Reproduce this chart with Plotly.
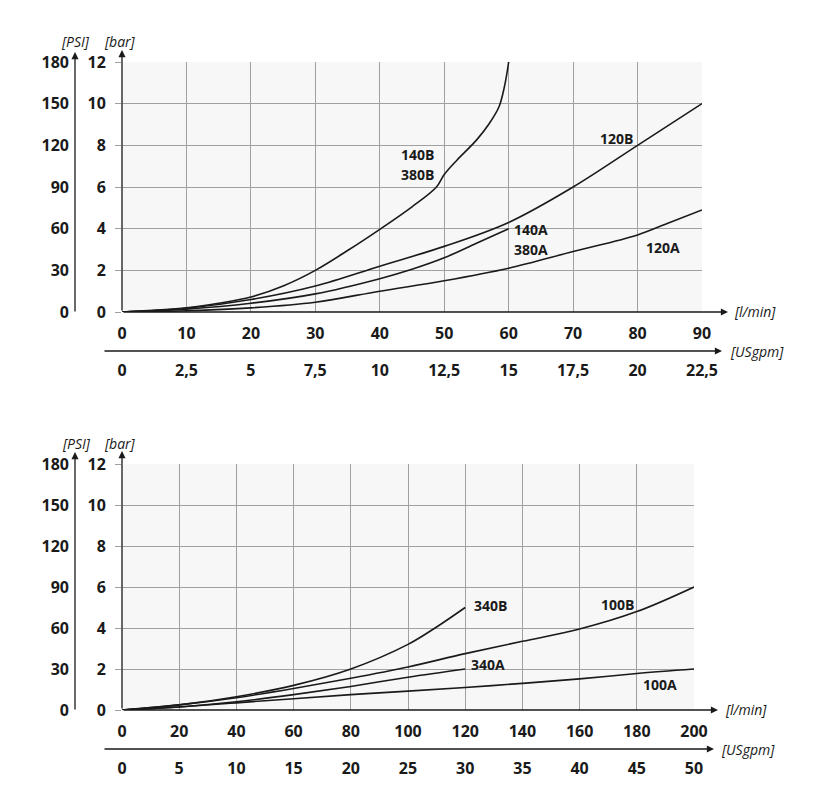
import plotly.graph_objects as go

W, H = 816, 798

# ---------------- data (top chart) ----------------
top_flow_ticks = [0, 10, 20, 30, 40, 50, 60, 70, 80, 90]
top_gpm_ticks = [0, 2.5, 5, 7.5, 10, 12.5, 15, 17.5, 20, 22.5]
top_gpm_labels = ["0", "2,5", "5", "7,5", "10", "12,5", "15", "17,5", "20", "22,5"]
bar_ticks = [0, 2, 4, 6, 8, 10, 12]
psi_ticks = [0, 30, 60, 90, 120, 150, 180]

q_140B = [0, 10, 15, 20, 25, 30, 35, 40, 45, 48.8, 50, 52, 55, 57, 58.5, 59.4, 60]
p_140B = [0, 0.2, 0.42, 0.72, 1.25, 2.0, 2.95, 3.97, 5.05, 6.0, 6.6, 7.3, 8.25, 9.05, 9.85, 10.9, 12.0]

q_120B = [0, 10, 20, 30, 40, 50, 60, 70, 80, 90]
p_120B = [0, 0.18, 0.6, 1.25, 2.2, 3.15, 4.3, 6.0, 8.0, 10.0]

q_140A = [0, 10, 20, 30, 40, 45, 50, 55, 60]
p_140A = [0, 0.14, 0.42, 0.87, 1.6, 2.05, 2.6, 3.3, 4.0]

q_120A = [0, 10, 20, 30, 40, 50, 60, 70, 80, 85, 90]
p_120A = [0, 0.06, 0.2, 0.47, 1.0, 1.5, 2.1, 2.9, 3.7, 4.3, 4.9]

# ---------------- data (bottom chart) ----------------
bot_flow_ticks = [0, 20, 40, 60, 80, 100, 120, 140, 160, 180, 200]
bot_gpm_ticks = [0, 5, 10, 15, 20, 25, 30, 35, 40, 45, 50]

q_340B = [0, 20, 40, 60, 80, 100, 110, 120]
p_340B = [0, 0.25, 0.65, 1.2, 2.0, 3.2, 4.05, 5.0]

q_100B = [0, 20, 40, 60, 80, 100, 120, 140, 160, 180, 200]
p_100B = [0, 0.25, 0.6, 1.05, 1.55, 2.1, 2.75, 3.35, 3.95, 4.8, 6.0]

q_340A = [0, 20, 40, 60, 80, 100, 120]
p_340A = [0, 0.15, 0.4, 0.75, 1.15, 1.6, 2.0]

q_100A = [0, 20, 40, 60, 80, 100, 120, 140, 160, 180, 200]
p_100A = [0, 0.15, 0.35, 0.55, 0.75, 0.92, 1.1, 1.3, 1.52, 1.78, 2.0]

top_labels = [("140B", 45.9, 7.54), ("380B", 45.9, 6.58), ("120B", 76.7, 8.35),
              ("140A", 63.5, 3.94), ("380A", 63.5, 2.98), ("120A", 84.0, 3.12)]
bot_labels = [("340B", 128.7, 5.12), ("100B", 173.4, 5.17),
              ("340A", 128.0, 2.24), ("100A", 188.0, 1.22)]

# ---------------- helpers ----------------
def px(x):
    return x / W

def py(y):
    return 1 - y / H

FONT = "Open Sans"
TICKFONT = dict(family=FONT, size=16, color="#1a1a1a", weight="bold")
GRID = "#a0a0a0"
BG = "#f7f7f7"

fig = go.Figure()

line_style = dict(color="#1a1a1a", width=1.6, shape="spline", smoothing=1.0)
for q, p in [(q_140B, p_140B), (q_120B, p_120B), (q_140A, p_140A), (q_120A, p_120A)]:
    fig.add_trace(go.Scatter(x=q, y=p, mode="lines", line=line_style,
                             xaxis="x", yaxis="y", hoverinfo="skip", showlegend=False))
for q, p in [(q_340B, p_340B), (q_100B, p_100B), (q_340A, p_340A), (q_100A, p_100A)]:
    fig.add_trace(go.Scatter(x=q, y=p, mode="lines", line=line_style,
                             xaxis="x3", yaxis="y3", hoverinfo="skip", showlegend=False))

# invisible traces so that the secondary (unit) axes are drawn
fig.add_trace(go.Scatter(x=[top_gpm_ticks[0], top_gpm_ticks[-1]], y=[psi_ticks[0], psi_ticks[-1]],
                         mode="markers", marker=dict(opacity=0), xaxis="x2", yaxis="y2",
                         hoverinfo="skip", showlegend=False))
fig.add_trace(go.Scatter(x=[bot_gpm_ticks[0], bot_gpm_ticks[-1]], y=[psi_ticks[0], psi_ticks[-1]],
                         mode="markers", marker=dict(opacity=0), xaxis="x4", yaxis="y4",
                         hoverinfo="skip", showlegend=False))

top_xdom = [px(122), px(702)]
top_ydom = [py(312), py(62)]
bot_xdom = [px(122), px(694)]
bot_ydom = [py(710), py(464)]

common_x = dict(showgrid=True, gridcolor=GRID, gridwidth=1, zeroline=False, showline=False,
                ticks="", tickfont=TICKFONT, ticklabelstandoff=10, fixedrange=True,
                automargin=False)
common_y = dict(showgrid=True, gridcolor=GRID, gridwidth=1, zeroline=False, showline=False,
                ticks="outside", ticklen=6, tickcolor=GRID, tickfont=TICKFONT,
                ticklabelstandoff=6, fixedrange=True, automargin=False)
sec_x = dict(showgrid=False, zeroline=False, showline=False, ticks="", tickfont=TICKFONT,
             ticklabelstandoff=8, fixedrange=True, automargin=False)
sec_y = dict(showgrid=False, zeroline=False, showline=False, ticks="", tickfont=TICKFONT,
             ticklabelstandoff=6, fixedrange=True, automargin=False, side="left")

fig.update_layout(
    width=W, height=H, margin=dict(l=0, r=0, t=0, b=0, autoexpand=False),
    paper_bgcolor="white", plot_bgcolor=BG, showlegend=False,
    xaxis=dict(common_x, domain=top_xdom, anchor="y", range=[0, 90],
               tickvals=top_flow_ticks),
    yaxis=dict(common_y, domain=top_ydom, anchor="x", range=[0, 12], tickvals=bar_ticks),
    xaxis2=dict(sec_x, overlaying="x", anchor="free", position=py(351), range=[0, 22.5],
                tickvals=top_gpm_ticks, ticktext=top_gpm_labels),
    yaxis2=dict(sec_y, overlaying="y", anchor="free", position=px(75), range=[0, 180],
                tickvals=psi_ticks),
    xaxis3=dict(common_x, domain=bot_xdom, anchor="y3", range=[0, 200],
                tickvals=bot_flow_ticks),
    yaxis3=dict(common_y, domain=bot_ydom, anchor="x3", range=[0, 12], tickvals=bar_ticks),
    xaxis4=dict(sec_x, overlaying="x3", anchor="free", position=py(749), range=[0, 50],
                tickvals=bot_gpm_ticks),
    yaxis4=dict(sec_y, overlaying="y3", anchor="free", position=px(75), range=[0, 180],
                tickvals=psi_ticks),
)

# axis lines with arrows (tail at (x0, y0), tip at (x1, y1), in page pixels)
def arrow(x0, y0, x1, y1):
    fig.add_annotation(xref="paper", yref="paper", axref="pixel", ayref="pixel",
                       x=px(x1), y=py(y1), ax=x0 - x1, ay=y0 - y1, text="",
                       showarrow=True, arrowhead=2, arrowsize=1.1, arrowwidth=1.3,
                       arrowcolor="#1a1a1a", standoff=0, startstandoff=0)

# top chart
arrow(122, 312, 122, 50)
arrow(75, 313, 75, 52)
arrow(122, 312, 728, 312)
arrow(103, 351, 722, 351)
# bottom chart
arrow(122, 710, 122, 451)
arrow(75, 711, 75, 452)
arrow(122, 710, 718, 710)
arrow(103, 749, 714, 749)

UNITFONT = dict(family=FONT, size=14, color="#1a1a1a", style="italic")

def unit(text, x, y, xanchor="center"):
    fig.add_annotation(xref="paper", yref="paper", x=px(x), y=py(y), text=text,
                       showarrow=False, font=UNITFONT, xanchor=xanchor, yanchor="middle")

unit("[PSI]", 75, 42)
unit("[bar]", 120, 42)
unit("[l/min]", 732, 311, "left")
unit("[USgpm]", 728, 351, "left")
unit("[PSI]", 76, 443)
unit("[bar]", 120, 443)
unit("[l/min]", 723, 709, "left")
unit("[USgpm]", 719, 749, "left")

LABELFONT = dict(family=FONT, size=14, color="#1a1a1a", weight="bold")
for t, x, y in top_labels:
    fig.add_annotation(xref="x", yref="y", x=x, y=y, text=t, showarrow=False, font=LABELFONT)
for t, x, y in bot_labels:
    fig.add_annotation(xref="x3", yref="y3", x=x, y=y, text=t, showarrow=False, font=LABELFONT)

fig.write_html("out.html")
